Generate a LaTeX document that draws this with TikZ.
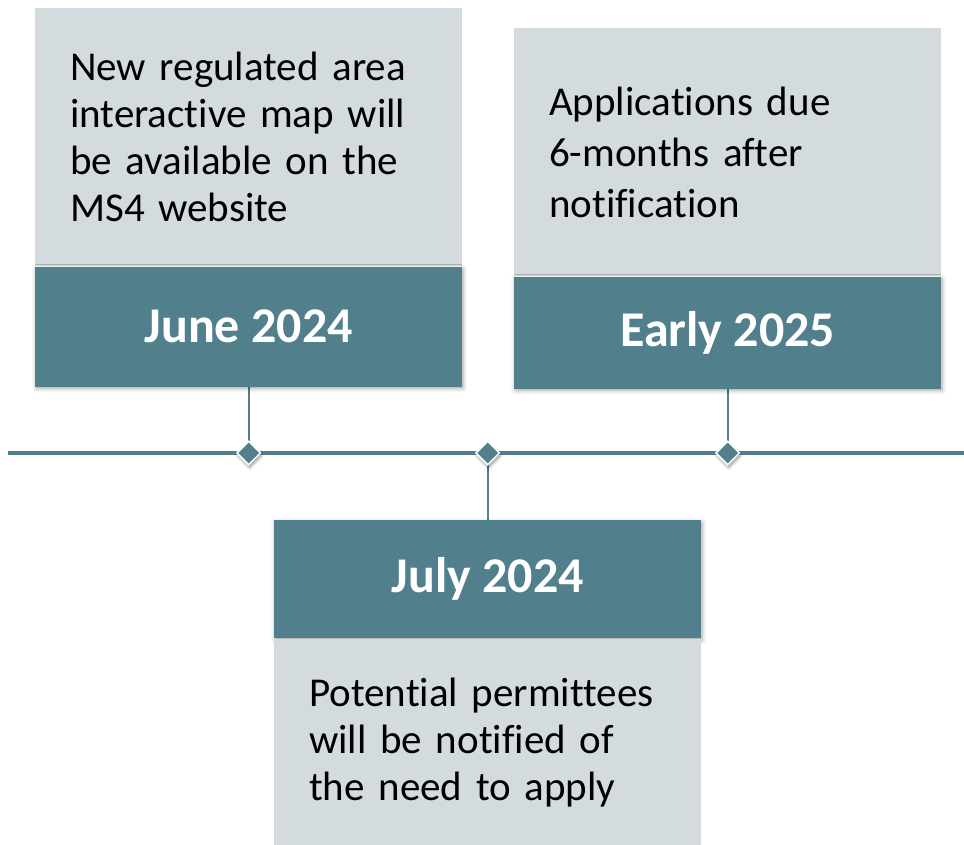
\documentclass[tikz,border=0pt]{standalone}
\usepackage{fontspec}
\setmainfont{Carlito}[Ligatures=NoCommon]
\usetikzlibrary{shapes.geometric,shadows.blur,backgrounds}

\definecolor{mileTeal}{RGB}{81,128,140}
\definecolor{noteGrey}{RGB}{212,219,222}

\tikzset{
  notebox/.style={fill=noteGrey, inner sep=0pt, inner xsep=35pt, text width=357pt,
    align=left, font=\fontsize{41}{47}\selectfont},
  datebox/.style={fill=mileTeal, text=white, inner sep=0pt, minimum width=427pt,
    font=\bfseries\fontsize{50}{56}\selectfont,
    blur shadow={shadow xshift=1pt, shadow yshift=-2pt, shadow blur radius=4pt, shadow opacity=35}},
  milestone/.style={diamond, aspect=1, fill=mileTeal, draw=white, line width=1.5pt,
    minimum size=24pt, inner sep=0pt,
    blur shadow={shadow xshift=1pt, shadow yshift=-3pt, shadow blur radius=3pt, shadow opacity=40}},
  timeline/.style={mileTeal, line width=4pt},
  stem/.style={mileTeal, line width=2pt},
}

\begin{document}
\begin{tikzpicture}[x=1pt, y=-1pt]
\useasboundingbox (0,0) rectangle (964,844);

% June 2024
\node[notebox, minimum height=258pt, anchor=north west] (juneNote) at (35,8)
  {New regulated area\\ interactive map will\\ be available on the\\ MS4 website};
\node[datebox, minimum height=120pt, anchor=north] (juneDate) at (juneNote.south) {June 2024};

% Early 2025
\node[notebox, minimum height=248pt, anchor=north west, font=\fontsize{41}{51}\selectfont] (earlyNote) at (514,28)
  {Applications due\\ 6-months after\\ notification};
\node[datebox, minimum height=112pt, anchor=north] (earlyDate) at (earlyNote.south) {Early 2025};

% July 2024, below the line
\node[datebox, minimum height=118pt, anchor=north west] (julyDate) at (274,520) {July 2024};
\node[notebox, minimum height=208pt, anchor=north] (julyNote) at (julyDate.south)
  {Potential permittees\\ will be notified of\\ the need to apply};

% the line and its markers
\coordinate (tlStart) at (8,453);
\coordinate (tlEnd) at (964,453);
\node[milestone] (juneMark) at (juneDate.south |- tlStart) {};
\node[milestone] (julyMark) at (julyDate.north |- tlStart) {};
\node[milestone] (earlyMark) at (earlyDate.south |- tlStart) {};

\begin{scope}[on background layer]
  \draw[timeline] (tlStart) -- (tlEnd);
  \draw[stem] (juneDate.south) -- (juneMark.center);
  \draw[stem] (julyMark.center) -- (julyDate.north);
  \draw[stem] (earlyDate.south) -- (earlyMark.center);
\end{scope}
\end{tikzpicture}
\end{document}
